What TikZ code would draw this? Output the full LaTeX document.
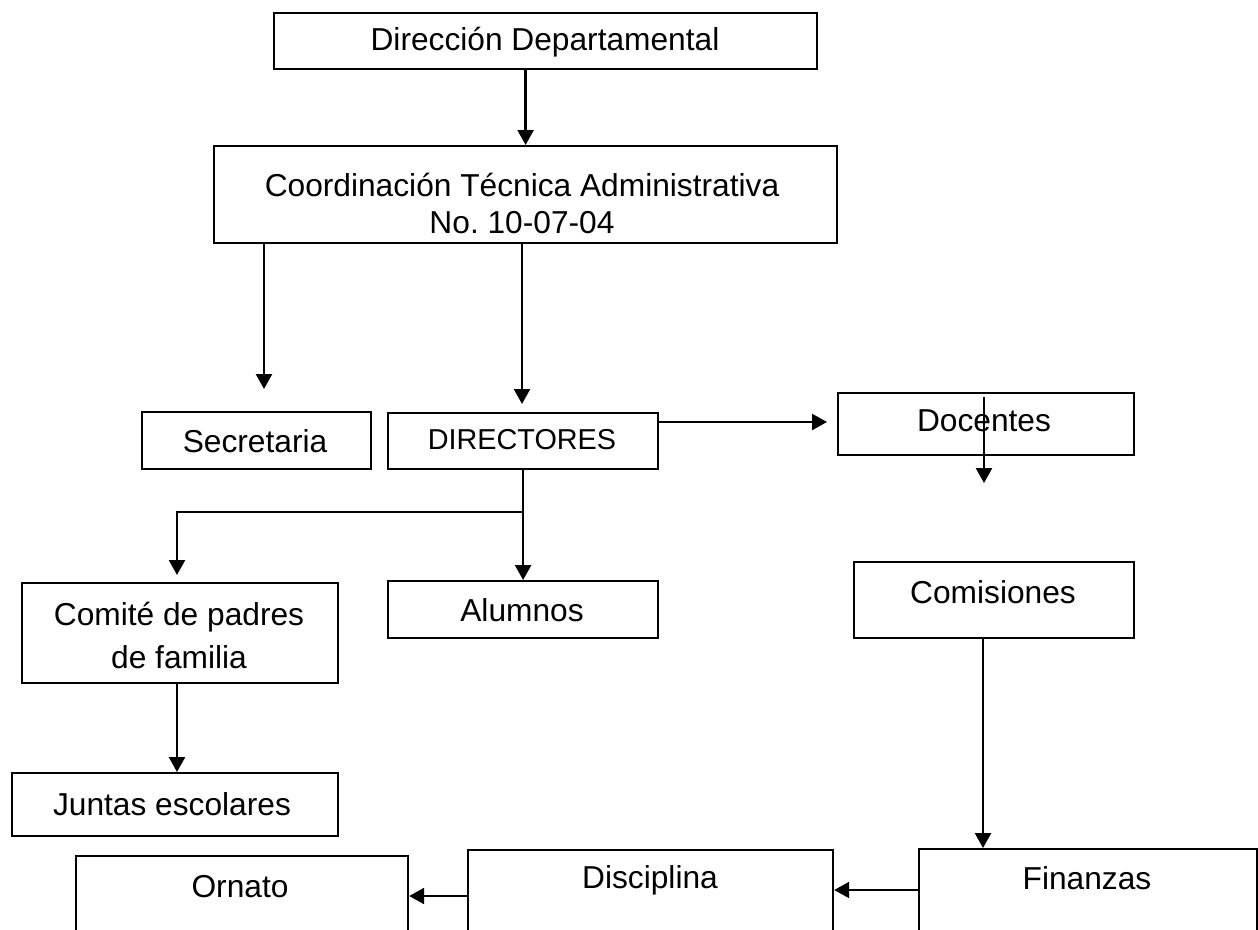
\documentclass[tikz,border=0pt]{standalone}
\usepackage{fontspec}
\setmainfont{Liberation Sans}
\usetikzlibrary{arrows.meta}
\begin{document}
\begin{tikzpicture}[x=1pt,y=-1pt,
  box/.style={draw,line width=2.2pt,inner sep=0pt,anchor=north west},
  lbl/.style={font=\fontsize{31.7}{35}\selectfont,inner sep=0pt,align=center},
  arr/.style={line width=2.4pt,-{Triangle[length=15pt,width=16pt]}},
  ln/.style={line width=2.4pt}]
\useasboundingbox (0,0) rectangle (1258,929);
\clip (0,0) rectangle (1258,929);
% boxes
\node[box,minimum width=543pt,minimum height=56pt] (dir) at (273,12) {};
\node[box,minimum width=623pt,minimum height=97pt] (coord) at (213,145) {};
\node[box,minimum width=229pt,minimum height=57pt] (sec) at (141,411) {};
\node[box,minimum width=270pt,minimum height=56pt] (dirs) at (387,412) {};
\node[box,minimum width=296pt,minimum height=62pt] (doc) at (837,392) {};
\node[box,minimum width=316pt,minimum height=100pt] (comite) at (21,582) {};
\node[box,minimum width=270pt,minimum height=57pt] (alum) at (387,580) {};
\node[box,minimum width=280pt,minimum height=76pt] (comis) at (853,561) {};
\node[box,minimum width=326pt,minimum height=63pt] (juntas) at (11,772) {};
\node[box,minimum width=332pt,minimum height=120pt] (ornato) at (75,855) {};
\node[box,minimum width=365pt,minimum height=120pt] (disc) at (467,849) {};
\node[box,minimum width=338pt,minimum height=120pt] (fin) at (918,848) {};
% texts
\node[lbl] (tdir) at (545,42) {Dirección Departamental};
\node[lbl,font=\fontsize{31.7}{37}\selectfont] (tcoord) at (522,203) {Coordinación Técnica Administrativa\\No.\ 10-07-04};
\node[lbl] (tsec) at (255,441) {Secretaria};
\node[lbl,font=\fontsize{28.8}{32}\selectfont] (tdirs) at (522,440) {DIRECTORES};
\node[lbl] (tdoc) at (984,421) {Docentes};
\node[lbl,font=\fontsize{31.7}{43}\selectfont] (tcomite) at (179,635) {Comité de padres\\de familia};
\node[lbl] (talum) at (522,610) {Alumnos};
\node[lbl] (tcomis) at (993,592) {Comisiones};
\node[lbl] (tjuntas) at (172,804) {Juntas escolares};
\node[lbl] (tornato) at (240,887) {Ornato};
\node[lbl] (tdisc) at (650,880) {Disciplina};
\node[lbl] (tfin) at (1087,878) {Finanzas};
% free ends
\coordinate (secarr) at (264,389);
\coordinate (dirsarr) at (522,404);
\coordinate (docin) at (827,422);
\coordinate (docv1) at (984,397);
\coordinate (docv2) at (984,483);
\coordinate (br) at (522,512);
\coordinate (comarr) at (177,575);
\coordinate (finarr) at (983,848);
\coordinate (ylow) at (0,890);
\coordinate (ylow2) at (0,896);
% connectors
\draw[arr] (dir.south -| coord.north) -- (coord.north);
\draw[arr] (coord.south -| secarr) -- (secarr);
\draw[arr] (coord.south -| dirsarr) -- (dirsarr);
\draw[arr] (dirs.east |- docin) -- (docin);
\draw[arr] (docv1) -- (docv2);
\draw[arr] (dirs.south) -- (alum.north);
\draw[arr] (br) -| (comarr);
\draw[arr] (comite.south -| comarr) -- (juntas.north -| comarr);
\draw[arr] (comis.south -| finarr) -- (finarr);
\draw[arr] (fin.west |- ylow) -- (disc.east |- ylow);
\draw[arr] (disc.west |- ylow2) -- (ornato.east |- ylow2);
\end{tikzpicture}
\end{document}
